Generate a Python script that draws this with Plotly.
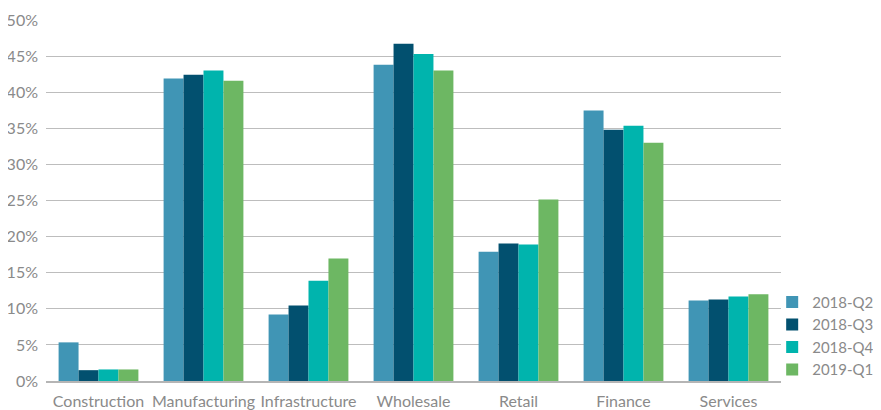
import plotly.graph_objects as go

categories = ["Construction", "Manufacturing", "Infrastructure", "Wholesale", "Retail", "Finance", "Services"]
series_names = ["2018-Q2", "2018-Q3", "2018-Q4", "2019-Q1"]
q2_2018 = [5.35, 41.9, 9.2, 43.8, 17.9, 37.45, 11.15]
q3_2018 = [1.5, 42.4, 10.45, 46.7, 19.05, 34.8, 11.3]
q4_2018 = [1.6, 43.0, 13.9, 45.3, 18.9, 35.35, 11.7]
q1_2019 = [1.6, 41.6, 16.95, 43.0, 25.15, 33.0, 12.0]
colors = ["#4095b5", "#02506f", "#00b4ad", "#6db763"]
tick_vals = [0, 5, 10, 15, 20, 25, 30, 35, 40, 45, 50]
tick_text = [f"{v}%" for v in tick_vals]

fig = go.Figure()
for name, vals, c in zip(series_names, [q2_2018, q3_2018, q4_2018, q1_2019], colors):
    fig.add_trace(go.Bar(name=name, x=categories, y=vals, marker=dict(color=c, line=dict(width=0))))

font_fam = "Lato, 'Open Sans', sans-serif"
# page body has an 8px margin, so the figure is 8px smaller and margins shifted
fig.update_layout(
    width=873, height=402,
    margin=dict(l=38, r=100, t=11.5, b=29, autoexpand=False),
    paper_bgcolor="white", plot_bgcolor="white",
    barmode="group", bargap=0.24, bargroupgap=0,
    font=dict(family=font_fam, color="#8a8a8a", size=16),
    showlegend=True,
    legend=dict(x=0.988, xanchor="left", y=-0.013, yanchor="bottom",
                font=dict(size=15, color="#8a8a8a"), tracegroupgap=0,
                itemsizing="constant", bgcolor="rgba(0,0,0,0)"),
    xaxis=dict(showgrid=False, showline=True, linecolor="#b5b5b5", linewidth=2,
               ticks="", tickfont=dict(size=16, color="#8a8a8a"), ticklabelstandoff=5),
    yaxis=dict(range=[0, 50], tickvals=tick_vals, ticktext=tick_text,
               showgrid=True, gridcolor="#bdbdbd", gridwidth=1.3, zeroline=False,
               showline=False, ticks="", tickfont=dict(size=16, color="#8a8a8a"),
               ticklabelstandoff=7),
)
fig.write_html("out.html")
